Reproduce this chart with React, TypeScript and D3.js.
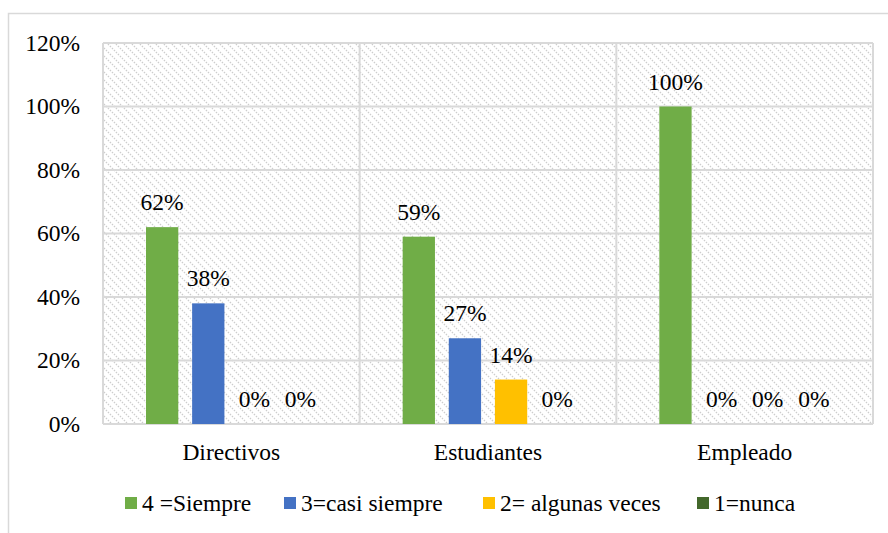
import React from "react";
import * as d3 from "d3";

const categories = ["Directivos", "Estudiantes", "Empleado"];
const seriesNames = ["4 =Siempre", "3=casi siempre", "2= algunas veces", "1=nunca"];
const seriesColors = ["#70AD47", "#4472C4", "#FFC000", "#43682B"];
const siempre = [0.62, 0.59, 1.0];
const casiSiempre = [0.38, 0.27, 0];
const algunasVeces = [0, 0.14, 0];
const nunca = [0, 0, 0];
const yTicks = [0, 0.2, 0.4, 0.6, 0.8, 1.0, 1.2];

const seriesValues = [siempre, casiSiempre, algunasVeces, nunca];

const W = 888;
const H = 533;
const plot = { left: 103, right: 873, top: 43, bottom: 424 };
const FONT = "'Liberation Serif', 'DejaVu Serif', serif";
const FS = 23.5;

export default function App() {
  const y = d3.scaleLinear().domain([0, 1.2]).range([plot.bottom, plot.top]);
  const x0 = d3.scaleBand().domain(categories).range([plot.left, plot.right]).paddingInner(0).paddingOuter(0);
  const x1 = d3
    .scaleBand()
    .domain(seriesNames)
    .range([43, x0.bandwidth() - 43])
    .paddingInner(0.3)
    .paddingOuter(0);
  const fmt = d3.format(".0%");
  const legendX = [125, 284, 483, 697];
  const ts = { fontFamily: FONT, fontSize: FS, fill: "#000" } as React.CSSProperties;

  return (
    <svg
      width={W}
      height={H}
      style={{ position: "absolute", left: 0, top: 0, display: "block", background: "#fff" }}
    >
      <defs>
        <pattern id="hatch" width="8" height="8" patternUnits="userSpaceOnUse">
          <rect width="8" height="8" fill="#ffffff" />
          <path d="M0,0 L8,8 M-1,7 L1,9 M7,-1 L9,1" stroke="#cdcdcd" strokeWidth="1.3" strokeDasharray="1.4,1.4" />
        </pattern>
      </defs>
      <rect x={8.5} y={13.5} width={W + 10} height={H + 10} fill="#fff" stroke="#d9d9d9" strokeWidth={1.5} />
      <rect
        x={plot.left}
        y={plot.top}
        width={plot.right - plot.left}
        height={plot.bottom - plot.top}
        fill="url(#hatch)"
      />
      {yTicks.map((t) => (
        <g key={t}>
          <line x1={plot.left} x2={plot.right} y1={y(t)} y2={y(t)} stroke="#d9d9d9" strokeWidth={2} />
          <text x={80} y={y(t)} dy="0.34em" textAnchor="end" style={ts}>
            {fmt(t)}
          </text>
        </g>
      ))}
      {[...categories.map((c) => x0(c) as number), plot.right].map((xv, i) => (
        <line key={i} x1={xv} x2={xv} y1={plot.top} y2={plot.bottom} stroke="#d9d9d9" strokeWidth={2} />
      ))}
      {categories.map((c, ci) => (
        <g key={c} transform={`translate(${x0(c)},0)`}>
          {seriesNames.map((s, si) => {
            const v = seriesValues[si][ci];
            const bx = x1(s) as number;
            return (
              <g key={s}>
                <rect x={bx} y={y(v)} width={x1.bandwidth()} height={plot.bottom - y(v)} fill={seriesColors[si]} />
                <text x={bx + x1.bandwidth() / 2} y={y(v) - 17} textAnchor="middle" style={ts}>
                  {fmt(v)}
                </text>
              </g>
            );
          })}
          <text x={x0.bandwidth() / 2} y={460} textAnchor="middle" style={ts}>
            {c}
          </text>
        </g>
      ))}
      {seriesNames.map((s, i) => (
        <g key={s}>
          <rect x={legendX[i]} y={497} width={12} height={12} fill={seriesColors[i]} />
          <text x={legendX[i] + 17} y={511} style={ts}>
            {s}
          </text>
        </g>
      ))}
    </svg>
  );
}
